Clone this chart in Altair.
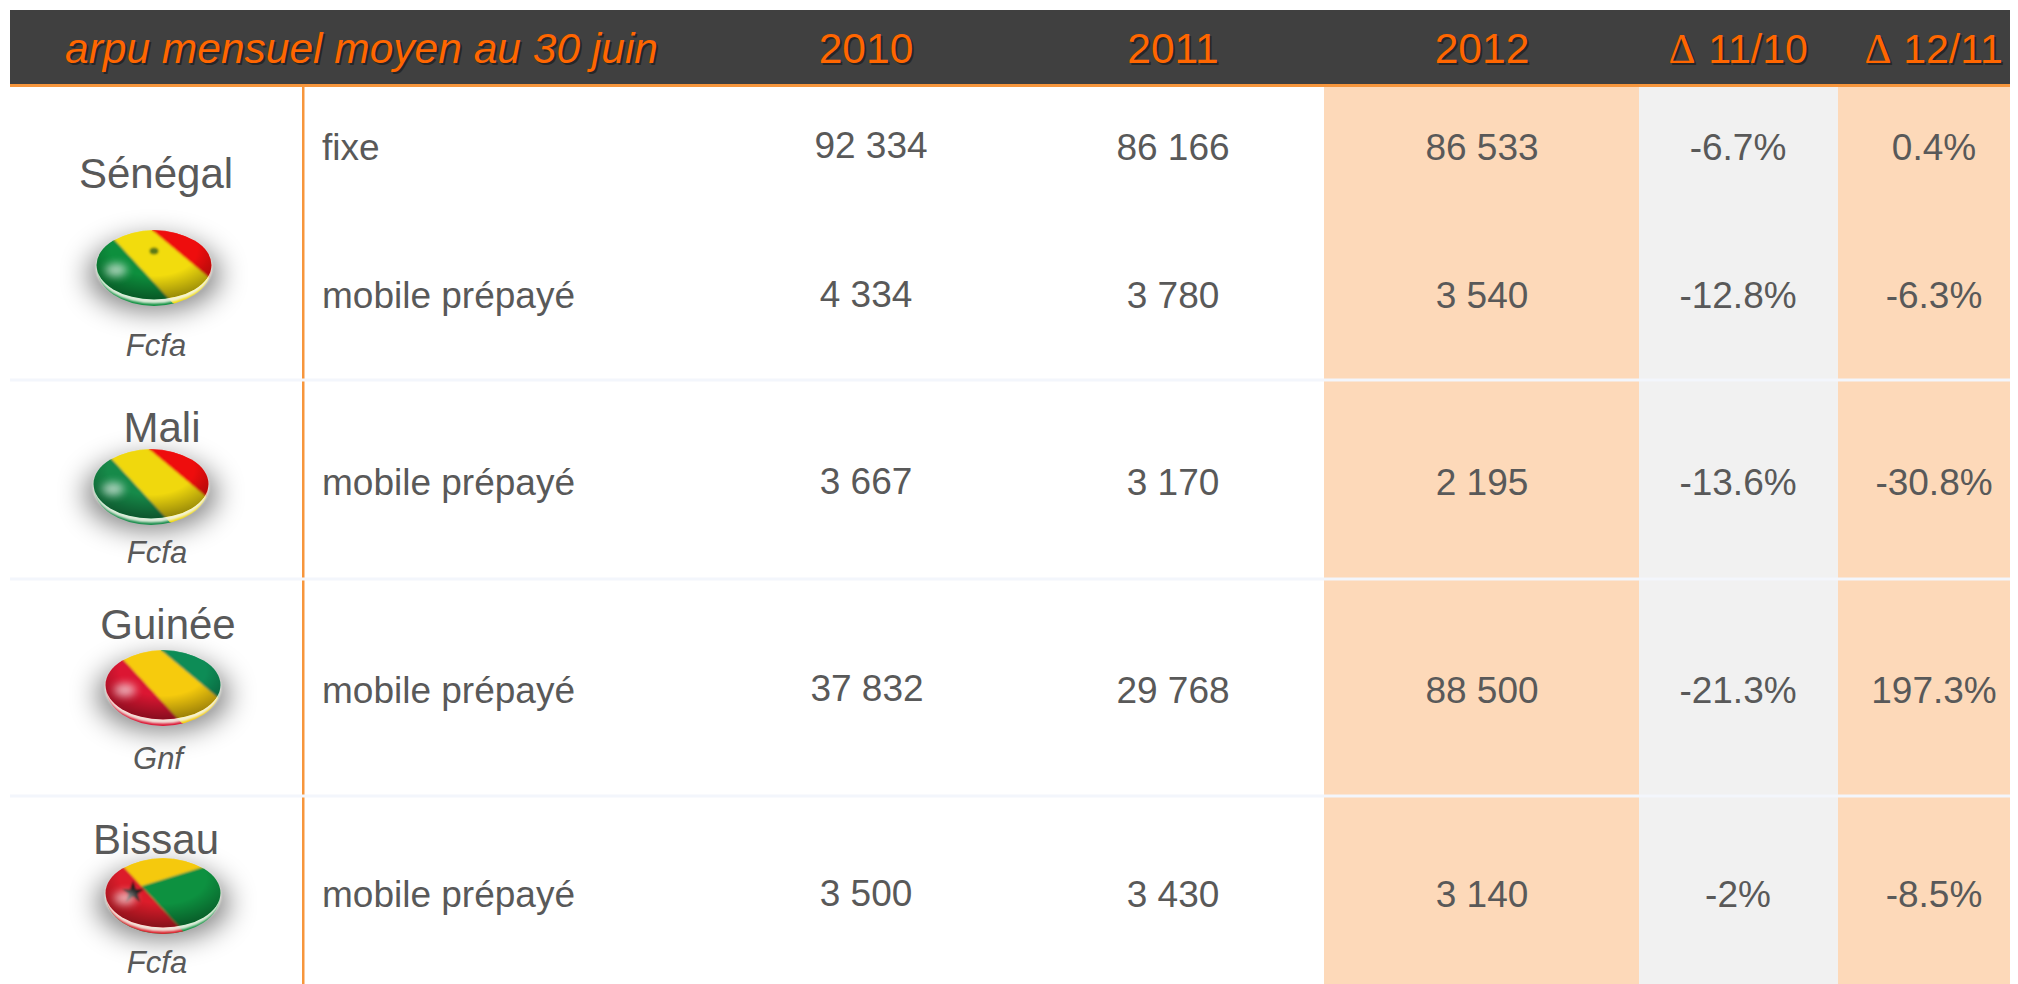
import base64
import altair as alt
import pandas as pd

# ---- table content ----
TITLE = "arpu mensuel moyen au 30 juin"
YEARS = ["2010", "2011", "2012"]
DELTAS = ["11/10", "12/11"]
COUNTRIES = ["Sénégal", "Mali", "Guinée", "Bissau"]
UNITS = ["Fcfa", "Fcfa", "Gnf", "Fcfa"]
SERVICES = ["fixe", "mobile prépayé", "mobile prépayé", "mobile prépayé", "mobile prépayé"]
V2010 = ["92 334", "4 334", "3 667", "37 832", "3 500"]
V2011 = ["86 166", "3 780", "3 170", "29 768", "3 430"]
V2012 = ["86 533", "3 540", "2 195", "88 500", "3 140"]
D1110 = ["-6.7%", "-12.8%", "-13.6%", "-21.3%", "-2%"]
D1211 = ["0.4%", "-6.3%", "-30.8%", "197.3%", "-8.5%"]

# ---- layout (page pixels) ----
ROW_BASE = [160, 308, 495, 703, 907]
BASE_2010 = [158, 307, 494, 701, 906]
X_2010 = [871, 866, 866, 867, 866]
COL_X = [1173, 1482, 1738, 1934]
HEAD_BASE = 63
COUNTRY_X = [156, 162, 168, 156]
COUNTRY_BASE = [188, 442, 639, 854]
UNIT_X = [156, 157, 158, 157]
UNIT_BASE = [356, 563, 769, 973]
FLAG_X = [154, 151, 163, 163]
FLAG_Y = [268, 487, 688, 896]
SEPS = [380, 579, 796]
BOTTOM = 984
RIGHT = 2010

DARK, ORANGE, LINE = "#404040", "#ff6600", "#f7963c"
PEACH, GREY, SEP, TXT = "#fdd9b9", "#f1f1f1", "#f3f6fc", "#595959"
FONT = "Liberation Sans"

X = alt.X("x:Q", scale=alt.Scale(domain=[8, RIGHT], nice=False, zero=False), axis=None)
Y = alt.Y("y:Q", scale=alt.Scale(domain=[BOTTOM, 8], nice=False, zero=False), axis=None)


def flag_uri(kind):
    extra = ""
    left1 = "-83,-76 58,77 -100,77 -100,-76"
    mid = "-83,-76 58,77 110,55 -52,-80"
    right = "-52,-80 110,55 100,-80"
    if kind == "Sénégal":
        shapes = [(left1, "#0b8f3e"), (mid, "#f2dc0a"), (right, "#ee0a0a")]
        extra = '<ellipse cx="0" cy="-17" rx="4.5" ry="3.5" fill="#5d7a12"/>'
    elif kind == "Mali":
        shapes = [(left1, "#138a48"), (mid, "#f0d810"), (right, "#ee0a0a")]
    elif kind == "Guinée":
        shapes = [(left1, "#dc1232"), (mid, "#f6cb08"), (right, "#0c8c56")]
    else:
        shapes = [("-100,-80 100,-80 100,-47 -100,15", "#f5c90c"),
                  ("-100,15 100,-47 100,77 -100,77", "#0b913f"),
                  (left1, "#dc1f2c")]
        extra = ('<polygon points="-30,-15 -27,-7 -19,-7 -25,-2 -23,6 -30,1 -37,6 -35,-2 -41,-7 -33,-7" '
                 'fill="#141414"/>')
    polys = "".join(f'<polygon points="{p}" fill="{c}" stroke="{c}" stroke-width="1"/>' for p, c in shapes)
    svg = f'''<svg xmlns="http://www.w3.org/2000/svg" width="280" height="190" viewBox="-140 -95 280 190">
<defs>
<filter id="b" x="-60%" y="-60%" width="220%" height="220%"><feGaussianBlur stdDeviation="14"/></filter>
<filter id="h" x="-80%" y="-80%" width="260%" height="260%"><feGaussianBlur stdDeviation="4"/></filter>
<filter id="s" x="-10%" y="-10%" width="120%" height="120%"><feGaussianBlur stdDeviation="0.9"/></filter>
<clipPath id="f"><ellipse cx="0" cy="-3" rx="57.5" ry="34.5"/></clipPath>
<clipPath id="o"><ellipse cx="0" cy="0" rx="57" ry="38"/></clipPath>
<radialGradient id="v" cx="50%" cy="28%" r="75%">
<stop offset="50%" stop-color="#000" stop-opacity="0"/><stop offset="100%" stop-color="#000" stop-opacity=".42"/>
</radialGradient>
</defs>
<ellipse cx="0" cy="7" rx="66" ry="36" fill="#000" opacity=".5" filter="url(#b)"/>
<g clip-path="url(#o)">{polys}</g>
<ellipse cx="0" cy="-0.5" rx="58" ry="36" fill="#f4f6ea" opacity=".9" filter="url(#s)"/>
<g clip-path="url(#f)"><g filter="url(#s)">{polys}{extra}</g>
<ellipse cx="0" cy="-3" rx="57.5" ry="34.5" fill="url(#v)"/>
<ellipse cx="-38" cy="2" rx="11" ry="6.5" fill="#fff" opacity=".65" filter="url(#h)"/>
</g>
</svg>'''
    return "data:image/svg+xml;base64," + base64.b64encode(svg.encode()).decode()


# ---- backgrounds ----
bands = pd.DataFrame([
    dict(x=1324, x2=1639, y=87, y2=BOTTOM, fill=PEACH),
    dict(x=1639, x2=1838, y=87, y2=BOTTOM, fill=GREY),
    dict(x=1838, x2=RIGHT, y=87, y2=BOTTOM, fill=PEACH),
    dict(x=302, x2=304.5, y=87, y2=BOTTOM, fill=LINE),
    dict(x=10, x2=RIGHT, y=10, y2=84, fill=DARK),
    dict(x=10, x2=RIGHT, y=84, y2=87, fill=LINE),
] + [dict(x=10, x2=RIGHT, y=s - 1.5, y2=s + 1.5, fill=SEP) for s in SEPS])
rects = alt.Chart(bands).mark_rect().encode(
    x=X, x2="x2:Q", y=Y, y2="y2:Q", color=alt.Color("fill:N", scale=None, legend=None))


def text_layer(df, size, color=TXT, align="center", style="normal", font=FONT):
    return alt.Chart(df).mark_text(
        fontSize=size, font=font, align=align, baseline="alphabetic", fontStyle=style, color=color
    ).encode(x=X, y=Y, text="t:N")


# ---- body text ----
vals = []
for i in range(5):
    vals.append(dict(t=V2010[i], x=X_2010[i], y=BASE_2010[i]))
    for col, cx in zip([V2011, V2012, D1110, D1211], COL_X):
        vals.append(dict(t=col[i], x=cx, y=ROW_BASE[i]))
body = text_layer(pd.DataFrame(vals), 37)
services = text_layer(pd.DataFrame(dict(t=SERVICES, x=[322] * 5, y=ROW_BASE)), 37, align="left")
countries = text_layer(pd.DataFrame(dict(t=COUNTRIES, x=COUNTRY_X, y=COUNTRY_BASE)), 42)
units = text_layer(pd.DataFrame(dict(t=UNITS, x=UNIT_X, y=UNIT_BASE)), 31, style="italic")

# ---- flags ----
flags = alt.Chart(pd.DataFrame(dict(
    x=FLAG_X, y=FLAG_Y, u=[flag_uri(c) for c in COUNTRIES]
))).mark_image(width=280, height=190, align="center", baseline="middle").encode(x=X, y=Y, url="u:N")


# ---- header (with a hard shadow beneath each text) ----
def header(df, size, **kw):
    sh = df.assign(x=df.x + 2, y=df.y + 2)
    return [text_layer(sh, size, color="#262626", **kw), text_layer(df, size, color=ORANGE, **kw)]


head = []
head += header(pd.DataFrame(dict(t=[TITLE], x=[65], y=[HEAD_BASE])), 42.5, align="left", style="italic")
head += header(pd.DataFrame(dict(t=YEARS, x=[866, 1173, 1482], y=[HEAD_BASE] * 3)), 42.5)
head += header(pd.DataFrame(dict(t=DELTAS, x=[1758, 1953], y=[HEAD_BASE] * 2)), 41)
head += header(pd.DataFrame(dict(t=["Δ", "Δ"], x=[1682, 1878], y=[HEAD_BASE] * 2)), 42, font="Liberation Serif")

chart = alt.layer(rects, flags, body, services, countries, units, *head).properties(
    width=RIGHT - 8, height=BOTTOM - 8, padding=0, autosize=alt.AutoSizeParams(type="none"),
    background="#ffffff"
).configure_view(stroke=None)

chart.save("out.html", embed_options={"renderer": "svg", "actions": False})
